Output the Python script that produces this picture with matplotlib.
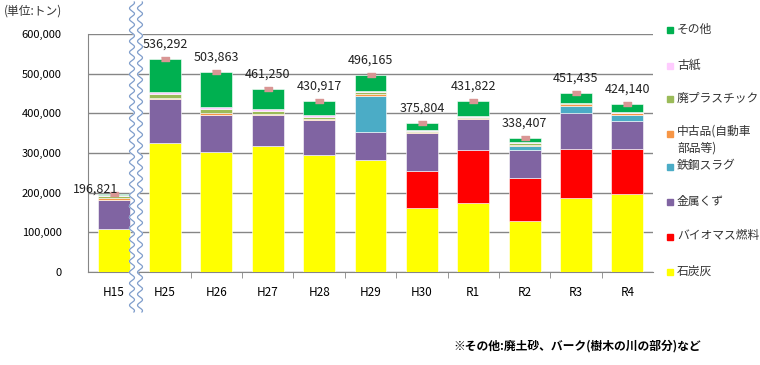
import numpy as np
import matplotlib.pyplot as plt
from matplotlib.patches import Polygon

plt.rcParams['font.family'] = ['Noto Sans CJK JP', 'DejaVu Sans']

# 年度
categories = ['H15', 'H25', 'H26', 'H27', 'H28', 'H29', 'H30', 'R1', 'R2', 'R3', 'R4']
totals = [196821, 536292, 503863, 461250, 430917, 496165, 375804, 431822, 338407, 451435, 424140]

# 品目別 (トン) - 下から順に
coal_ash = [107600, 326000, 303300, 318400, 294200, 282300, 160600, 174800, 129400, 187300, 196600]
biomass = [0, 0, 0, 0, 0, 0, 94000, 132000, 107600, 122000, 112700]
metal_scrap = [74000, 109400, 92500, 77400, 88200, 71400, 95000, 78200, 69800, 90800, 72100]
steel_slag = [0, 0, 0, 0, 0, 90000, 0, 0, 10000, 18400, 15000]
used_parts = [6000, 4000, 4000, 2000, 2500, 4000, 4000, 3500, 4500, 4500, 3500]
waste_plastic = [4000, 10000, 11000, 8500, 6500, 5000, 2500, 3000, 4000, 2000, 2000]
old_paper = [2000, 4000, 5500, 3500, 5000, 4000, 2000, 3000, 2500, 2000, 1000]
other = [3221, 82900, 87600, 51450, 34500, 39500, 17700, 37300, 10600, 24400, 21200]

series = [
    ('石炭灰', coal_ash, '#FFFF00'),
    ('バイオマス燃料', biomass, '#FF0000'),
    ('金属くず', metal_scrap, '#8064A2'),
    ('鉄鋼スラグ', steel_slag, '#4BACC6'),
    ('中古品(自動車\n部品等)', used_parts, '#F79646'),
    ('廃プラスチック', waste_plastic, '#9BBB59'),
    ('古紙', old_paper, '#FFCCFF'),
    ('その他', other, '#00B050'),
]

W, H = 760, 365
fig = plt.figure(figsize=(W / 100, H / 100), dpi=100)
ax = fig.add_axes([88 / W, (H - 272) / H, (653 - 88) / W, (272 - 34) / H])

x = np.arange(len(categories))
bottom = np.zeros(len(categories))
for name, vals, col in series:
    vals = np.array(vals, dtype=float)
    ax.bar(x, vals, width=0.62, bottom=bottom, color=col, edgecolor='white',
           linewidth=0.4, zorder=3)
    bottom += vals

# 合計マーカー
rect = [(-4, -1.5), (4, -1.5), (4, 1.5), (-4, 1.5)]
ax.plot(x, totals, linestyle='none', marker=rect, markersize=6,
        color='#D99694', zorder=5)
for i, (xi, t) in enumerate(zip(x, totals)):
    off = (-13, -1) if i == 0 else (0, 6)
    ax.annotate(f'{t:,}', (xi, t), xytext=off, textcoords='offset points',
                ha='center', va='bottom', fontsize=9, color='#222222', zorder=8)

ax.set_xlim(-0.5, len(categories) - 0.5)
ax.set_ylim(0, 600000)
ax.set_yticks(np.arange(0, 600001, 100000))
ax.set_yticklabels([f'{v:,}' for v in range(0, 600001, 100000)], fontsize=8)
ax.set_xticks(x)
ax.set_xticklabels(categories, fontsize=8.5)
ax.set_xticks(np.arange(0.5, len(categories) - 1, 1), minor=True)
ax.tick_params(axis='x', which='major', length=0, pad=10)
ax.tick_params(axis='x', which='minor', length=4, color='#868686')
ax.tick_params(axis='y', length=0, pad=19)
ax.grid(axis='y', color='#868686', linewidth=1, zorder=0)
ax.set_axisbelow(True)
for s in ['top', 'right']:
    ax.spines[s].set_visible(False)
for s in ['left', 'bottom']:
    ax.spines[s].set_color('#868686')

# 凡例
ov = fig.add_axes([0, 0, 1, 1])
ov.set_xlim(0, W)
ov.set_ylim(H, 0)
ov.axis('off')

leg_y = [272, 237, 202, 167, 134, 99, 66, 30]
for (name, vals, col), yy in zip(series, leg_y):
    ov.add_patch(plt.Rectangle((667, yy - 3), 6, 6, color=col))
    if '\n' in name:
        ov.text(677, yy - 9, name, fontsize=8.5, va='top', color='#333333',
                linespacing=1.35)
    else:
        ov.text(677, yy - 1, name, fontsize=8.5, va='center', color='#333333')

# 波線 (省略記号)
yy = np.linspace(2, 312, 400)
wave = 2.5 * np.sin(2 * np.pi * yy / 11)
xl = 132 + wave
xr = 140 + wave
ov.add_patch(Polygon(np.column_stack([np.r_[xl, xr[::-1]], np.r_[yy, yy[::-1]]]),
                     closed=True, color='white', zorder=6))
ov.plot(xl, yy, color='#7F9DCB', linewidth=0.9, zorder=7)
ov.plot(xr, yy, color='#7F9DCB', linewidth=0.9, zorder=7)

ov.text(4, 11, '(単位:トン)', fontsize=8.5, va='center', color='#333333')
ov.text(453, 346, '※その他:廃土砂、バーク(樹木の川の部分)など', fontsize=8.5,
        va='center', color='black', fontweight='bold')

fig.savefig('out.png', dpi=100)
